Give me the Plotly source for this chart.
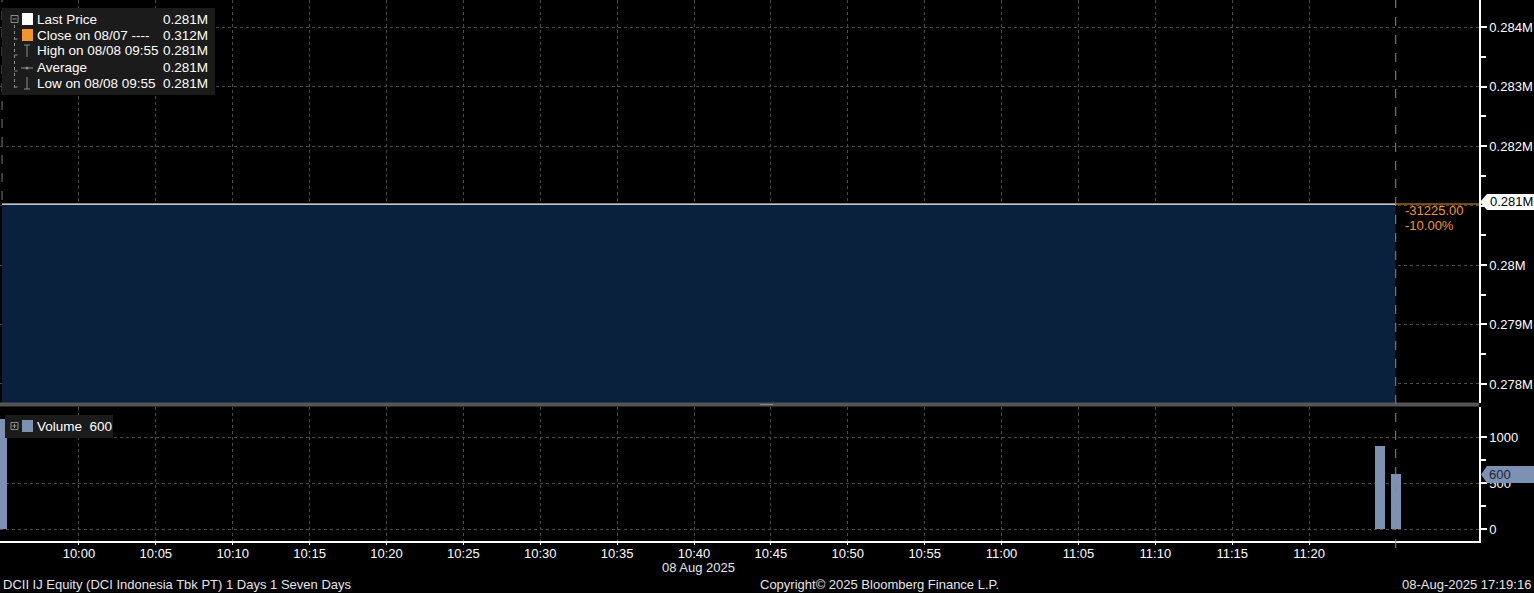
import plotly.graph_objects as go

# ---------------- data ----------------
price_times = ["2025-08-08 09:55:00", "2025-08-08 11:24:35", "2025-08-08 11:25:38"]
price_values = [0.281025, 0.281025, 0.281025]          # in millions
volume_times = ["2025-08-08 09:55:00", "2025-08-08 11:24:35", "2025-08-08 11:25:38"]
volume_values = [1200, 900, 600]
last_price = 0.281025
close_prev = 0.31225
net_change = "-31225.00"
pct_change = "-10.00%"

x_tick_times = ["2025-08-08 10:00", "2025-08-08 10:05", "2025-08-08 10:10", "2025-08-08 10:15",
                "2025-08-08 10:20", "2025-08-08 10:25", "2025-08-08 10:30", "2025-08-08 10:35",
                "2025-08-08 10:40", "2025-08-08 10:45", "2025-08-08 10:50", "2025-08-08 10:55",
                "2025-08-08 11:00", "2025-08-08 11:05", "2025-08-08 11:10", "2025-08-08 11:15",
                "2025-08-08 11:20"]
x_tick_labels = ["10:00", "10:05", "10:10", "10:15", "10:20", "10:25", "10:30", "10:35", "10:40",
                 "10:45", "10:50", "10:55", "11:00", "11:05", "11:10", "11:15", "11:20"]
price_ticks = [0.278, 0.279, 0.280, 0.281, 0.282, 0.283, 0.284]
price_tick_labels = ["0.278M", "0.279M", "0.28M", "", "0.282M", "0.283M", "0.284M"]
price_minor = [0.2775, 0.2785, 0.2795, 0.2805, 0.2815, 0.2825, 0.2835, 0.2845]
volume_ticks = [0, 500, 1000]
volume_tick_labels = ["0", "500", "1000"]
volume_minor = [250, 750]

legend_names = ["Last Price", "Close on 08/07 ----", "High on 08/08 09:55", "Average", "Low on 08/08 09:55"]
legend_values = ["0.281M", "0.312M", "0.281M", "0.281M", "0.281M"]

x_range = ["2025-08-08 09:54:52", "2025-08-08 11:31:03"]
price_range = [0.27768, 0.284455]
volume_range = [-130, 1326]

# ---------------- geometry helpers ----------------
W, H = 1534, 593
PL, PR, PT, PB = 0, 1479, 0, 541


def px(x):
    return (x - PL) / (PR - PL)


def py(y):
    return (PB - y) / (PB - PT)


FONT = "Liberation Sans, Arial, sans-serif"
GRID = "#4a4a4a"
BAR = "#7d91b2"
ORANGE = "#f0962a"
FS = 13
LFS = 13.5

fig = go.Figure()
fig.add_trace(go.Scatter(x=price_times, y=price_values, mode="lines",
                         line=dict(color="white", width=1.2),
                         fill="tozeroy", fillcolor="#0a213d",
                         xaxis="x", yaxis="y", hoverinfo="skip", showlegend=False))
fig.add_trace(go.Bar(x=volume_times, y=volume_values, width=39000,
                     marker=dict(color=BAR, line=dict(width=0)),
                     xaxis="x", yaxis="y2", showlegend=False))

shapes = []
annotations = []

# separator between panels
shapes.append(dict(type="rect", xref="paper", yref="paper", x0=px(0), x1=px(1479),
                   y0=py(406.5), y1=py(402.5), fillcolor="#555555", line=dict(width=0), layer="above"))
shapes.append(dict(type="line", xref="paper", yref="paper", x0=px(760), x1=px(773),
                   y0=py(404.5), y1=py(404.5), line=dict(color="#8a8a8a", width=1), layer="above"))

# vertical dashed lines
shapes.append(dict(type="line", xref="x", yref="paper", x0=price_times[0], x1=price_times[0],
                   y0=py(200), y1=py(0), line=dict(color="#777777", width=1, dash="dash")))
shapes.append(dict(type="line", xref="x", yref="paper", x0=price_times[-1], x1=price_times[-1],
                   y0=py(548), y1=py(0), line=dict(color="#8a8a8a", width=1, dash="dash"), layer="above"))
# orange extension of last price
shapes.append(dict(type="line", xref="x", yref="y", x0=price_times[-1], x1=x_range[1],
                   y0=last_price, y1=last_price, line=dict(color=ORANGE, width=1)))

# last price label on the axis
shapes.append(dict(type="path", xref="paper", yref="paper",
                   path=f"M {px(1480)} {py(202)} L {px(1487)} {py(194)} L {px(1534)} {py(194)} "
                        f"L {px(1534)} {py(210)} L {px(1487)} {py(210)} Z",
                   fillcolor="white", line=dict(width=0), layer="above"))
annotations.append(dict(xref="paper", yref="paper", x=px(1488), y=py(202), xanchor="left", yanchor="middle",
                        text="0.281M", showarrow=False, font=dict(family=FONT, size=FS, color="black")))
# volume label on the axis
shapes.append(dict(type="path", xref="paper", yref="paper",
                   path=f"M {px(1481)} {py(474.5)} L {px(1487)} {py(466)} L {px(1534)} {py(466)} "
                        f"L {px(1534)} {py(483)} L {px(1487)} {py(483)} Z",
                   fillcolor=BAR, line=dict(width=0), layer="above"))
annotations.append(dict(xref="paper", yref="paper", x=px(1487), y=py(474.5), xanchor="left", yanchor="middle",
                        text="600", showarrow=False, font=dict(family=FONT, size=FS, color="#1a2433")))

# change annotations
annotations.append(dict(xref="paper", yref="paper", x=px(1403), y=py(210), xanchor="left", yanchor="middle",
                        text=net_change, showarrow=False, font=dict(family=FONT, size=FS, color=ORANGE)))
annotations.append(dict(xref="paper", yref="paper", x=px(1403), y=py(226), xanchor="left", yanchor="middle",
                        text=pct_change, showarrow=False, font=dict(family=FONT, size=FS, color=ORANGE)))

# top legend box
shapes.append(dict(type="rect", xref="paper", yref="paper", x0=px(2), x1=px(215), y0=py(95), y1=py(8),
                   fillcolor="#1b1b1b", line=dict(width=0), layer="above"))
rows = [19, 35, 51, 67, 83]
TREE = "#8c8c8c"
shapes.append(dict(type="rect", xref="paper", yref="paper", x0=px(11), x1=px(18), y0=py(22.5), y1=py(15.5),
                   line=dict(color=TREE, width=1), fillcolor="rgba(0,0,0,0)", layer="above"))
shapes.append(dict(type="line", xref="paper", yref="paper", x0=px(12.5), x1=px(16.5), y0=py(19), y1=py(19),
                   line=dict(color=TREE, width=1), layer="above"))
shapes.append(dict(type="line", xref="paper", yref="paper", x0=px(14.5), x1=px(14.5), y0=py(88), y1=py(23),
                   line=dict(color=TREE, width=1, dash="dot"), layer="above"))
for r in rows[1:]:
    shapes.append(dict(type="line", xref="paper", yref="paper", x0=px(14.5), x1=px(20), y0=py(r + 4),
                       y1=py(r + 4), line=dict(color=TREE, width=1, dash="dot"), layer="above"))
shapes.append(dict(type="rect", xref="paper", yref="paper", x0=px(22), x1=px(33), y0=py(25), y1=py(13),
                   fillcolor="white", line=dict(width=0), layer="above"))
shapes.append(dict(type="rect", xref="paper", yref="paper", x0=px(22), x1=px(33), y0=py(41), y1=py(29),
                   fillcolor=ORANGE, line=dict(width=0), layer="above"))
shapes.append(dict(type="line", xref="paper", yref="paper", x0=px(24), x1=px(30), y0=py(45), y1=py(45),
                   line=dict(color=TREE, width=1), layer="above"))
shapes.append(dict(type="line", xref="paper", yref="paper", x0=px(27), x1=px(27), y0=py(57), y1=py(45),
                   line=dict(color=TREE, width=1), layer="above"))
shapes.append(dict(type="line", xref="paper", yref="paper", x0=px(21), x1=px(33), y0=py(68), y1=py(68),
                   line=dict(color=TREE, width=1), layer="above"))
shapes.append(dict(type="circle", xref="paper", yref="paper", x0=px(25.5), x1=px(28.5), y0=py(69.5),
                   y1=py(66.5), fillcolor=TREE, line=dict(width=0), layer="above"))
shapes.append(dict(type="line", xref="paper", yref="paper", x0=px(27), x1=px(27), y0=py(89), y1=py(77),
                   line=dict(color=TREE, width=1), layer="above"))
shapes.append(dict(type="line", xref="paper", yref="paper", x0=px(24), x1=px(30), y0=py(89), y1=py(89),
                   line=dict(color=TREE, width=1), layer="above"))
for r, name, val in zip(rows, legend_names, legend_values):
    annotations.append(dict(xref="paper", yref="paper", x=px(35), y=py(r), xanchor="left", yanchor="middle",
                            text=name, showarrow=False, font=dict(family=FONT, size=LFS, color="white")))
    annotations.append(dict(xref="paper", yref="paper", x=px(210), y=py(r), xanchor="right", yanchor="middle",
                            text=val, showarrow=False, font=dict(family=FONT, size=LFS, color="white")))

# volume legend box
shapes.append(dict(type="rect", xref="paper", yref="paper", x0=px(5), x1=px(113), y0=py(438), y1=py(415),
                   fillcolor="#1b1b1b", line=dict(width=0), layer="above"))
shapes.append(dict(type="rect", xref="paper", yref="paper", x0=px(11), x1=px(18), y0=py(429.5), y1=py(422.5),
                   line=dict(color=TREE, width=1), fillcolor="rgba(0,0,0,0)", layer="above"))
shapes.append(dict(type="line", xref="paper", yref="paper", x0=px(12.5), x1=px(16.5), y0=py(426), y1=py(426),
                   line=dict(color=TREE, width=1), layer="above"))
shapes.append(dict(type="line", xref="paper", yref="paper", x0=px(14.5), x1=px(14.5), y0=py(428), y1=py(424),
                   line=dict(color=TREE, width=1), layer="above"))
shapes.append(dict(type="rect", xref="paper", yref="paper", x0=px(22), x1=px(33), y0=py(432), y1=py(420),
                   fillcolor=BAR, line=dict(width=0), layer="above"))
annotations.append(dict(xref="paper", yref="paper", x=px(35), y=py(426.5), xanchor="left", yanchor="middle",
                        text="Volume  600", showarrow=False, font=dict(family=FONT, size=LFS, color="white")))

# date and footer
annotations.append(dict(xref="paper", yref="paper", x=px(698), y=py(567), xanchor="center", yanchor="middle",
                        text="08 Aug 2025", showarrow=False, font=dict(family=FONT, size=FS, color="#e6e6e6")))
annotations.append(dict(xref="paper", yref="paper", x=px(1), y=py(584), xanchor="left", yanchor="middle",
                        text="DCII IJ Equity (DCI Indonesia Tbk PT) 1 Days 1 Seven Days", showarrow=False,
                        font=dict(family=FONT, size=FS, color="#e6e6e6")))
annotations.append(dict(xref="paper", yref="paper", x=px(879), y=py(584), xanchor="center", yanchor="middle",
                        text="Copyright© 2025 Bloomberg Finance L.P.", showarrow=False,
                        font=dict(family=FONT, size=FS, color="#e6e6e6")))
annotations.append(dict(xref="paper", yref="paper", x=px(1533), y=py(584), xanchor="right", yanchor="middle",
                        text="08-Aug-2025 17:19:16", showarrow=False,
                        font=dict(family=FONT, size=FS, color="#e6e6e6")))

axis_font = dict(family=FONT, size=FS, color="white")
fig.update_layout(
    width=W, height=H,
    margin=dict(l=PL, r=W - PR, t=PT, b=H - PB, autoexpand=False),
    paper_bgcolor="black", plot_bgcolor="black",
    bargap=0, showlegend=False,
    xaxis=dict(domain=[0, 1], anchor="y2", range=x_range, type="date",
               tickmode="array", tickvals=x_tick_times, ticktext=x_tick_labels,
               showgrid=True, gridcolor=GRID, griddash="dot", gridwidth=1,
               showline=True, linecolor="white", linewidth=1.5,
               ticks="outside", ticklen=2, tickcolor="white", tickfont=axis_font, zeroline=False,
               ticklabelstandoff=-2),
    yaxis=dict(domain=[py(403), 1], anchor="x", side="right", range=price_range,
               tickmode="array", tickvals=price_ticks, ticktext=price_tick_labels,
               showgrid=True, gridcolor=GRID, griddash="dot", gridwidth=1,
               showline=True, linecolor="white", linewidth=1.5,
               ticks="outside", ticklen=6, tickwidth=2, tickcolor="white", tickfont=axis_font,
               minor=dict(tickvals=price_minor, ticks="outside", ticklen=5, tickcolor="white", showgrid=False),
               zeroline=False),
    yaxis2=dict(domain=[0, py(407)], anchor="x", side="right", range=volume_range,
                tickmode="array", tickvals=volume_ticks, ticktext=volume_tick_labels,
                showgrid=True, gridcolor=GRID, griddash="dot", gridwidth=1,
                showline=True, linecolor="white", linewidth=1.5,
                ticks="outside", ticklen=6, tickwidth=2, tickcolor="white", tickfont=axis_font,
                minor=dict(tickvals=volume_minor, ticks="outside", ticklen=5, tickcolor="white", showgrid=False),
                zeroline=False),
    shapes=shapes, annotations=annotations,
)

fig.write_html("out.html", config={"displayModeBar": False},
               post_script="document.body.style.margin='0';document.body.style.background='black';"
                           "document.body.style.overflow='hidden';")
